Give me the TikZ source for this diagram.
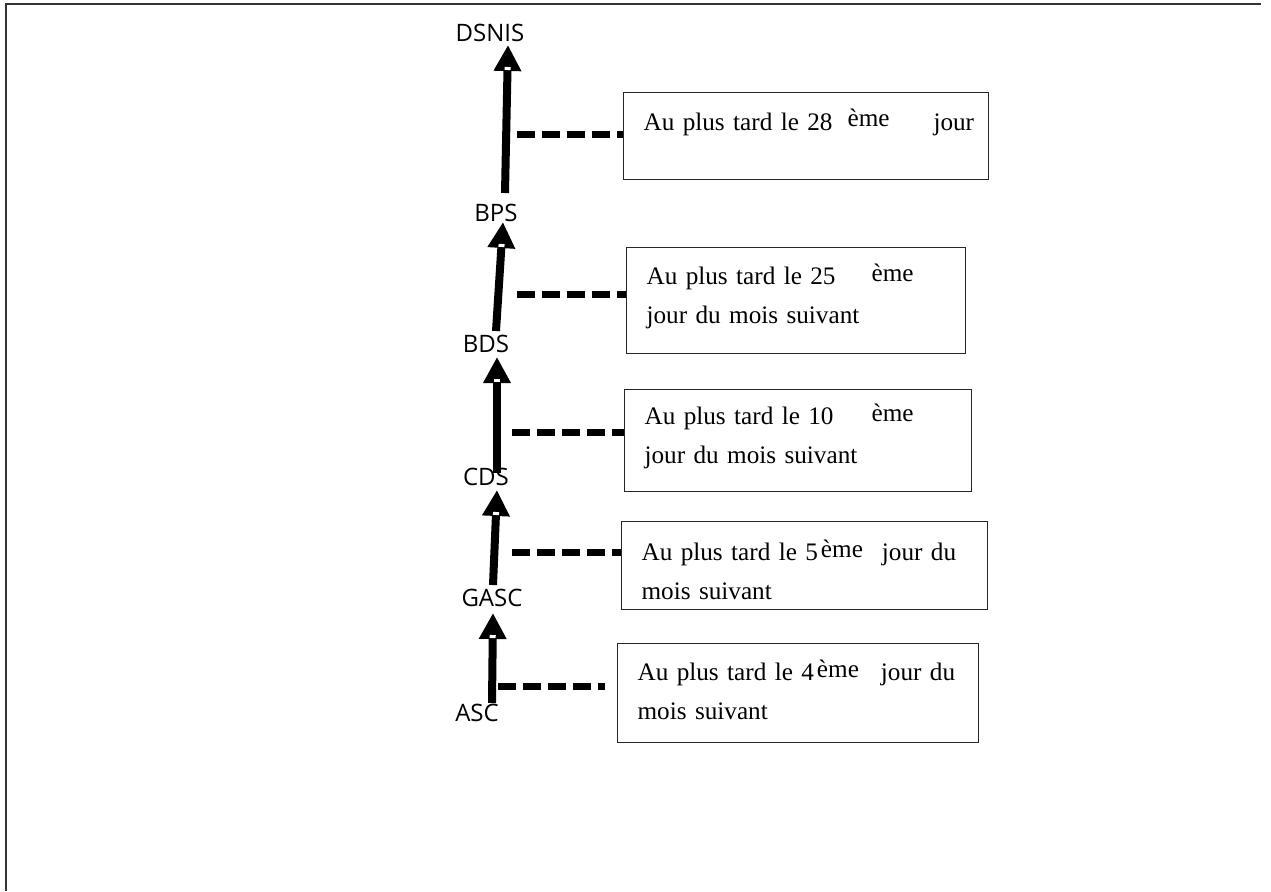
\documentclass[tikz,border=0pt]{standalone}
\usepackage{fontspec}
\setmainfont{Liberation Serif}
\newfontfamily\niveaufont{Open Sans}
\usetikzlibrary{arrows.meta,calc}

\tikzset{
  niveau/.style={font=\niveaufont\fontsize{12}{14}\selectfont, inner sep=0pt},
  delai/.style={draw=black!85, line width=0.6pt, anchor=north west, align=left,
    inner xsep=10pt, inner ysep=0pt, font=\fontsize{12.6}{19.5}\selectfont},
  flux/.style={line width=4pt, -{Triangle[width=13pt,length=13pt]}},
  encoche/.style={white, line width=3pt},
  lien/.style={line width=3.5pt, dash pattern=on 9pt off 3.5pt},
  cadre/.style={black!80, line width=1pt},
}
\newcommand{\eme}[1][1.5pt]{\raisebox{#1}{ème}}

\begin{document}
\begin{tikzpicture}[x=0.5pt,y=-0.5pt]

\useasboundingbox (0,0) rectangle (1271,891);
\draw[cadre] (6,891) -- (6,4) -- (1261,4);

\node[niveau] (dsnis) at (490,33) {DSNIS};
\node[niveau] (bps) at (496,213) {BPS};
\node[niveau] (bds) at (486,344) {BDS};
\node[niveau] (cds) at (486,477) {CDS};
\node[niveau] (gasc) at (492,598) {GASC};
\node[niveau] (asc) at (477,713) {ASC};

\coordinate (a1s) at ($(bps)+(9,-20)$);
\coordinate (a1t) at ($(dsnis)+(18,12)$);
\coordinate (a2s) at ($(bds)+(10,-13)$);
\coordinate (a2t) at ($(bps)+(7,9)$);
\coordinate (a3s) at ($(cds)+(11,-4)$);
\coordinate (a3t) at ($(bds)+(11,13)$);
\coordinate (a4s) at ($(gasc)+(1,-13)$);
\coordinate (a4t) at ($(cds)+(11,13)$);
\coordinate (a5s) at ($(asc)+(15,-10)$);
\coordinate (a5t) at ($(gasc)+(1,15)$);

\draw[flux] (a1s) -- (a1t);
\draw[flux] (a2s) -- (a2t);
\draw[flux] (a3s) -- (a3t);
\draw[flux] (a4s) -- (a4t);
\draw[flux] (a5s) -- (a5t);

% petites marques blanches a la base des fleches
\draw[encoche] ($(a1t)!11pt!(a1s)$) -- ($(a1t)!12.5pt!(a1s)$);
\draw[encoche] ($(a2t)!11pt!(a2s)$) -- ($(a2t)!12.5pt!(a2s)$);
\draw[encoche] ($(a3t)!11pt!(a3s)$) -- ($(a3t)!12.5pt!(a3s)$);
\draw[encoche] ($(a4t)!11pt!(a4s)$) -- ($(a4t)!12.5pt!(a4s)$);
\draw[encoche] ($(a5t)!11pt!(a5s)$) -- ($(a5t)!12.5pt!(a5s)$);

\node[delai, text width=162.5pt, text height=19pt, text depth=24.5pt] (b1) at (623,92)
  {\mbox{Au plus tard le 28\hspace{7.5pt}\eme[2pt]\hspace{22pt}jour}};
\node[delai, text width=149.5pt, text height=18.5pt, text depth=34.5pt] (b2) at (626,247)
  {Au plus tard le 25\hspace{18pt}\eme\\jour du mois suivant};
\node[delai, text width=153.5pt, text height=17.5pt, text depth=33.5pt] (b3) at (624,389)
  {Au plus tard le 10\hspace{19pt}\eme\\jour du mois suivant};
\node[delai, text width=163pt, text height=19.5pt, text depth=24.5pt] (b4) at (621,521)
  {\mbox{Au plus tard le 5\hspace{1.5pt}\eme\hspace{9.5pt}jour du}\\mois suivant};
\node[delai, text width=160.5pt, text height=18.5pt, text depth=31pt] (b5) at (617,643)
  {\mbox{Au plus tard le 4\hspace{1.5pt}\eme\hspace{11pt}jour du}\\mois suivant};

\coordinate (d1) at (517,134);
\coordinate (d2) at (517,294);
\coordinate (d3) at (512,432);
\coordinate (d4) at (512,552);
\coordinate (d5) at (498,686);

\draw[lien] (d1) -- (d1 -| b1.west);
\draw[lien] (d2) -- (d2 -| b2.west);
\draw[lien] (d3) -- (d3 -| b3.west);
\draw[lien] (d4) -- (d4 -| b4.west);
\draw[lien] (d5) -- ($(d5 -| b5.west)+(-12,0)$);

\end{tikzpicture}
\end{document}
